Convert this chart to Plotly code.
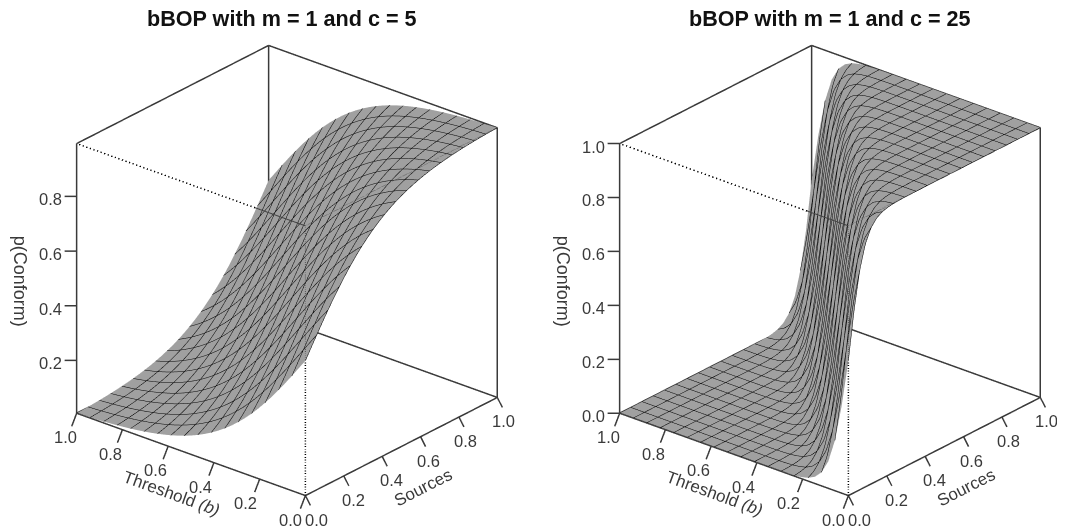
import math
import plotly.graph_objects as go

MESH_STEP = 2 / 34
grid = [0.0000, 0.0294, 0.0588, 0.0882, 0.1176, 0.1471, 0.1765, 0.2059, 0.2353, 0.2647, 0.2941, 0.3235,
        0.3529, 0.3824, 0.4118, 0.4412, 0.4706, 0.5000, 0.5294, 0.5588, 0.5882, 0.6176, 0.6471, 0.6765,
        0.7059, 0.7353, 0.7647, 0.7941, 0.8235, 0.8529, 0.8824, 0.9118, 0.9412, 0.9706, 1.0000]

# p(Conform) read along the gap (sources - threshold), from -1 to +1 in steps of half a mesh cell
profile_c5 = [0.0067, 0.0077, 0.0090, 0.0104, 0.0120, 0.0139, 0.0160, 0.0185, 0.0214, 0.0247,
              0.0285, 0.0329, 0.0379, 0.0436, 0.0502, 0.0577, 0.0662, 0.0759, 0.0868, 0.0993,
              0.1132, 0.1288, 0.1462, 0.1655, 0.1868, 0.2102, 0.2357, 0.2632, 0.2927, 0.3240,
              0.3570, 0.3914, 0.4270, 0.4633, 0.5000, 0.5367, 0.5730, 0.6086, 0.6430, 0.6760,
              0.7073, 0.7368, 0.7643, 0.7898, 0.8132, 0.8345, 0.8538, 0.8712, 0.8868, 0.9007,
              0.9132, 0.9241, 0.9338, 0.9423, 0.9498, 0.9564, 0.9621, 0.9671, 0.9715, 0.9753,
              0.9786, 0.9815, 0.9840, 0.9861, 0.9880, 0.9896, 0.9910, 0.9923, 0.9933]
profile_c25 = [0.0000, 0.0000, 0.0000, 0.0000, 0.0000, 0.0000, 0.0000, 0.0000, 0.0000, 0.0000,
               0.0000, 0.0000, 0.0000, 0.0000, 0.0000, 0.0000, 0.0000, 0.0000, 0.0000, 0.0000,
               0.0000, 0.0001, 0.0001, 0.0003, 0.0006, 0.0013, 0.0028, 0.0058, 0.0120, 0.0247,
               0.0502, 0.0993, 0.1868, 0.3240, 0.5000, 0.6760, 0.8132, 0.9007, 0.9498, 0.9753,
               0.9880, 0.9942, 0.9972, 0.9987, 0.9994, 0.9997, 0.9999, 0.9999, 1.0000, 1.0000,
               1.0000, 1.0000, 1.0000, 1.0000, 1.0000, 1.0000, 1.0000, 1.0000, 1.0000, 1.0000,
               1.0000, 1.0000, 1.0000, 1.0000, 1.0000, 1.0000, 1.0000, 1.0000, 1.0000]

titles = ["bBOP with m = 1 and c = 5", "bBOP with m = 1 and c = 25"]
xy_ticks = [0.0, 0.2, 0.4, 0.6, 0.8, 1.0]
z_ticks_c5 = [0.2, 0.4, 0.6, 0.8]
z_ticks_c25 = [0.0, 0.2, 0.4, 0.6, 0.8, 1.0]
source_title = "Sources"
threshold_title = "Threshold <i>(b)</i>"
z_title = "p(Conform)"

FONT = "Liberation Sans, Arial, sans-serif"
INK = "#3a3a3a"
GREY = "#a0a0a0"
THETA = math.radians(40)
PHI = math.radians(25.4)
EYE = 2.0
ASPECT = 1.386
PAD = 0.1
W, H = 1065, 529


def panel(profile, z_ticks, scene_name, covered_b):
    zmin, zmax = min(profile), max(profile)
    zh = zmax - zmin
    n = len(grid) - 1
    z = [[profile[i - j + n] for i in range(n + 1)] for j in range(n + 1)]
    mesh = dict(show=True, start=0, end=1, size=MESH_STEP, color="#000000", width=5, highlight=False)
    traces = [go.Surface(
        x=grid, y=grid, z=z, scene=scene_name, showscale=False, hoverinfo="skip",
        colorscale=[[0, GREY], [1, GREY]],
        lighting=dict(ambient=1, diffuse=0, specular=0, fresnel=0, roughness=1),
        contours=dict(x=mesh, y=mesh, z=dict(show=False, highlight=False)),
    )]

    def seg(pts, dash="solid", width=3, color=INK):
        traces.append(go.Scatter3d(
            x=[p[0] for p in pts], y=[p[1] for p in pts], z=[p[2] for p in pts],
            mode="lines", scene=scene_name, hoverinfo="skip", showlegend=False,
            line=dict(color=color, width=width, dash=dash),
        ))

    # box: (sources, threshold, p)
    for a, b in [
        ((0, 1, zmin), (0, 1, zmax)), ((1, 0, zmin), (1, 0, zmax)), ((1, 1, zmin), (1, 1, zmax)),
        ((0, 1, zmax), (1, 1, zmax)), ((1, 0, zmax), (1, 1, zmax)),
        ((0, 1, zmin), (1, 1, zmin)), ((1, 0, zmin), (1, 1, zmin)),
        ((0, 0, zmin), (0, 1, zmin)), ((0, 0, zmin), (1, 0, zmin)),
    ]:
        seg([a, b])
    # hidden box edges: dotted on white, faint where they cross the surface
    seg([(0, 0, zmin), (0, 0, 0.5)], dash="dash", color="#000000", width=3)
    seg([(0, covered_b, zmax), (0, 1, zmax)], dash="dash", color="#000000", width=3)
    seg([(0, 0, 0.5), (0, 0, zmax)], dash="dot", color="#555555", width=2)
    seg([(0, 0, zmax), (0, covered_b, zmax)], color="#444444", width=2)
    seg([(0, 0, zmax), (1, 0, zmax)], dash="dot", color="#555555", width=2)

    ann = []

    def label(x, y, zv, text, xs, ys, angle=0, size=16.5):
        ann.append(dict(x=x, y=y, z=zv, text=text, showarrow=False, xshift=xs, yshift=ys,
                        textangle=angle, font=dict(family=FONT, size=size, color=INK)))

    for t in xy_ticks:
        seg([(0, t, zmin), (-0.026, t, zmin - 0.039 * zh)])
        label(0, t, zmin, f"{t:.1f}", -15 + 4 * t, -24)
        seg([(t, 0, zmin), (t, -0.022, zmin - 0.03 * zh)])
        label(t, 0, zmin, f"{t:.1f}", 11 - 5 * t, -24)
    for t in z_ticks:
        seg([(0, 1, t), (-0.026, 1.031, t)])
        label(0, 1, t, f"{t:.1f}", -26, -3)

    label(0, 0.5, zmin, threshold_title, -20, -39, angle=20, size=17)
    label(0.5, 0, zmin, source_title, 22, -41, angle=-27, size=17)
    label(0, 1, 0.5 * (zmin + zmax), z_title, -57, -3, angle=90, size=18)

    pad_z = PAD * zh
    hidden = lambda title, rng: dict(visible=False, range=rng, autorange=False, title=dict(text=title))
    scene = dict(
        xaxis=hidden(source_title, [-PAD, 1 + PAD]),
        yaxis=hidden("Threshold (b)", [-PAD, 1 + PAD]),
        zaxis=hidden(z_title, [zmin - pad_z, zmax + pad_z]),
        aspectmode="manual", aspectratio=dict(x=ASPECT, y=ASPECT, z=ASPECT),
        bgcolor="white",
        camera=dict(
            projection=dict(type="orthographic"),
            up=dict(x=0, y=0, z=1),
            center=dict(x=0, y=0, z=0),
            eye=dict(x=-EYE * math.cos(PHI) * math.cos(THETA),
                     y=-EYE * math.cos(PHI) * math.sin(THETA),
                     z=EYE * math.sin(PHI)),
        ),
        annotations=ann,
    )
    return traces, scene


fig = go.Figure()
t1, s1 = panel(profile_c5, z_ticks_c5, "scene", 0.22)
t2, s2 = panel(profile_c25, z_ticks_c25, "scene2", 0.18)
for t in t1 + t2:
    fig.add_trace(t)
scene_y = [(H - 521) / H, (H - 4) / H]
s1["domain"] = dict(x=[0, 558 / W], y=scene_y)
s2["domain"] = dict(x=[587 / W, 1057 / W], y=scene_y)

title_font = dict(family=FONT, size=21.6, color="#111111")
fig.update_layout(
    width=W, height=H, margin=dict(l=0, r=0, t=0, b=0), showlegend=False,
    paper_bgcolor="white", scene=s1, scene2=s2,
    annotations=[
        dict(text=f"<b>{titles[0]}</b>", x=274 / W, y=1 - 10.5 / H, xref="paper", yref="paper",
             showarrow=False, font=title_font, xanchor="center", yanchor="middle"),
        dict(text=f"<b>{titles[1]}</b>", x=822 / W, y=1 - 10.5 / H, xref="paper", yref="paper",
             showarrow=False, font=title_font, xanchor="center", yanchor="middle"),
    ],
)
fig.write_html("out.html", config=dict(displayModeBar=False))
